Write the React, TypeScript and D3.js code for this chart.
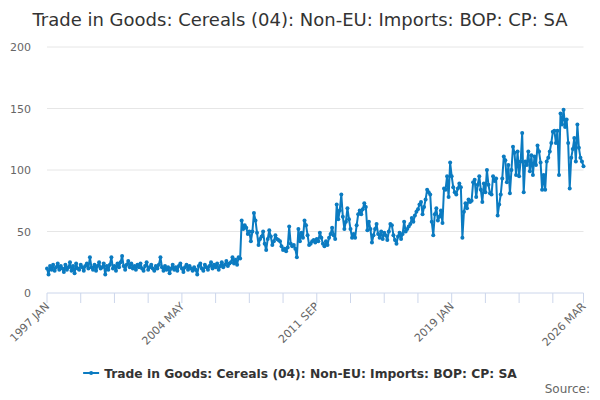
import { useEffect, useRef } from "react";
import * as d3 from "d3";

const TITLE = "Trade in Goods: Cereals (04): Non-EU: Imports: BOP: CP: SA";
const SERIES_NAME = "Trade in Goods: Cereals (04): Non-EU: Imports: BOP: CP: SA";
const LINE_COLOR = "#0b7bc1";

const MONTHS = ["JAN", "FEB", "MAR", "APR", "MAY", "JUN", "JUL", "AUG", "SEP", "OCT", "NOV", "DEC"];
const FIRST_YEAR = 1997;
const Y_TICKS = [0, 50, 100, 150, 200];

// monthly values, one row per year (1997 .. 2026 MAR)
const VALUES = [
  20, 15, 22, 19, 23, 18, 21, 24, 19, 22, 20, 17,
  23, 19, 21, 25, 18, 22, 16, 24, 20, 19, 23, 21,
  18, 22, 24, 20, 29, 21, 19, 23, 18, 22, 25, 20,
  21, 24, 15, 22, 19, 23, 29, 20, 22, 18, 24, 21,
  25, 30, 22, 19, 23, 26, 21, 24, 20, 22, 19, 23,
  21, 24, 20, 18, 22, 25, 19, 21, 23, 20, 18, 22,
  20, 23, 29, 21, 18, 22, 19, 21, 16, 20, 23, 19,
  21, 18, 22, 24, 20, 17, 21, 23, 19, 22, 20, 18,
  21, 19, 15, 22, 24, 20, 18, 23, 21, 19, 22, 25,
  20, 23, 21, 24, 19, 22, 25, 21, 23, 26, 22, 24,
  25, 29, 24, 27, 23, 29, 28, 59, 52, 55, 53, 48,
  50, 42, 50, 65, 59, 49, 39, 44, 46, 50, 40, 35,
  44, 51, 46, 39, 42, 47, 44, 43, 42, 38, 35, 36,
  34, 37, 54, 40, 38, 39, 36, 29, 52, 42, 49, 45,
  59, 55, 47, 39, 40, 42, 43, 41, 44, 42, 49, 45,
  40, 38, 42, 39, 45, 48, 53, 47, 44, 72, 60, 67,
  80, 62, 52, 58, 69, 60, 52, 45, 48, 45, 55, 64,
  67, 64, 68, 73, 70, 51, 58, 52, 41, 47, 52, 56,
  48, 45, 50, 44, 49, 47, 43, 50, 56, 55, 47, 43,
  40, 46, 49, 44, 48, 58, 50, 52, 54, 56, 61, 58,
  63, 66, 68, 72, 74, 64, 70, 76, 84, 82, 80, 58,
  47, 64, 69, 59, 62, 67, 57, 85, 84, 95, 78, 106,
  95, 86, 82, 80, 85, 89, 86, 45, 66, 73, 69, 76,
  74, 75, 90, 92, 78, 88, 95, 84, 74, 89, 82, 100,
  88, 81, 80, 95, 91, 93, 63, 72, 80, 93, 111, 108,
  90, 104, 81, 100, 119, 114, 96, 115, 95, 107, 130, 82,
  107, 104, 115, 99, 112, 96, 111, 104, 120, 115, 106, 84,
  96, 84, 107, 110, 115, 122, 131, 132, 122, 132, 96, 146,
  137, 149, 135, 141, 122, 85, 110, 117, 126, 107, 137, 118,
  110, 107, 103,
];

const CATEGORIES = VALUES.map((_, i) => `${FIRST_YEAR + Math.floor(i / 12)} ${MONTHS[i % 12]}`);

const FONT = "'DejaVu Sans', sans-serif";

export default function App() {
  const ref = useRef<SVGSVGElement>(null);

  useEffect(() => {
    if (!ref.current) return;
    const W = 600, H = 400;
    const ML = 47, MR = 16.5, MT = 47, MB = 107;

    const svg = d3.select(ref.current).attr("width", W).attr("height", H);
    svg.selectAll("*").remove();

    const x = d3.scalePoint<string>().domain(CATEGORIES).range([ML, W - MR]);
    const y = d3.scaleLinear().domain([0, 200]).range([H - MB, MT]);

    // Title
    svg.append("text")
      .attr("x", W / 2).attr("y", 26)
      .attr("text-anchor", "middle")
      .attr("font-family", FONT).attr("font-size", 18)
      .attr("fill", "#333333")
      .text(TITLE);

    // Grid + y labels
    const gy = svg.append("g");
    gy.selectAll("line")
      .data(Y_TICKS.filter(d => d > 0))
      .enter().append("line")
      .attr("x1", ML).attr("x2", W - MR)
      .attr("y1", d => y(d)).attr("y2", d => y(d))
      .attr("stroke", "#e6e6e6");
    gy.selectAll("text")
      .data(Y_TICKS)
      .enter().append("text")
      .attr("x", 31).attr("y", d => y(d) + 4)
      .attr("text-anchor", "end")
      .attr("font-family", FONT).attr("font-size", 11)
      .attr("fill", "#666666")
      .text(d => d);

    // X axis
    const last = CATEGORIES.length - 1;
    const tickIdx = d3.range(0, last, 22).concat([last]);
    const labelIdx = tickIdx.filter(i => i % 88 === 0 || i === last);
    const gx = svg.append("g").attr("transform", `translate(0,${y(0)})`);
    gx.append("line")
      .attr("x1", ML).attr("x2", W - MR)
      .attr("stroke", "#ccd6eb");
    gx.selectAll("line.tick")
      .data(tickIdx)
      .enter().append("line")
      .attr("class", "tick")
      .attr("x1", i => x(CATEGORIES[i])!).attr("x2", i => x(CATEGORIES[i])!)
      .attr("y1", 0).attr("y2", 10)
      .attr("stroke", "#ccd6eb");
    gx.selectAll("text")
      .data(labelIdx)
      .enter().append("text")
      .attr("transform", i => `translate(${x(CATEGORIES[i])! + 3},${14}) rotate(-45)`)
      .attr("text-anchor", "end")
      .attr("font-family", FONT).attr("font-size", 11)
      .attr("fill", "#666666")
      .text(i => CATEGORIES[i]);

    // Series
    const line = d3.line<number>()
      .x((_, i) => x(CATEGORIES[i])!)
      .y(d => y(d));
    svg.append("path")
      .datum(VALUES)
      .attr("d", line)
      .attr("fill", "none")
      .attr("stroke", LINE_COLOR)
      .attr("stroke-width", 2)
      .attr("stroke-linejoin", "round");
    svg.append("g").selectAll("circle")
      .data(VALUES)
      .enter().append("circle")
      .attr("cx", (_, i) => x(CATEGORIES[i])!)
      .attr("cy", d => y(d))
      .attr("r", 2)
      .attr("fill", LINE_COLOR);

    // Legend
    const lg = svg.append("g");
    const lt = lg.append("text")
      .attr("x", 21).attr("y", 5)
      .attr("font-family", FONT).attr("font-size", 12.3).attr("font-weight", 700)
      .attr("fill", "#333333")
      .text(SERIES_NAME);
    const tw = (lt.node() as SVGTextElement).getComputedTextLength();
    lg.append("line").attr("x1", 0).attr("x2", 16).attr("stroke", LINE_COLOR).attr("stroke-width", 2);
    lg.append("circle").attr("cx", 8).attr("r", 2).attr("fill", LINE_COLOR);
    lg.attr("transform", `translate(${(W - (21 + tw)) / 2},373)`);

    // Source
    svg.append("text")
      .attr("x", 590).attr("y", 393)
      .attr("text-anchor", "end")
      .attr("font-family", FONT).attr("font-size", 12)
      .attr("fill", "#666666")
      .text("Source:");
  }, []);

  return (
    <div style={{ position: "absolute", left: 0, top: 0 }}>
      <svg ref={ref} />
    </div>
  );
}
